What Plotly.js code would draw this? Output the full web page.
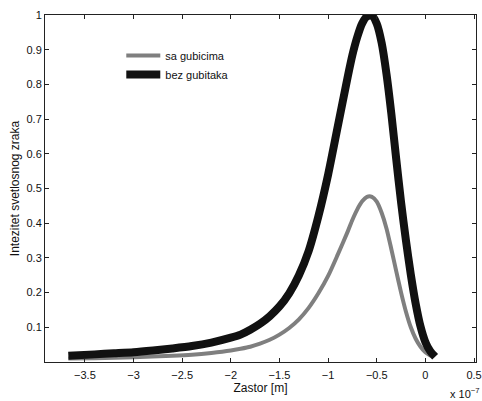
<!DOCTYPE html>
<html>
<head>
<meta charset="utf-8">
<script src="https://cdn.plot.ly/plotly-3.0.1.min.js"></script>
<style>html,body{margin:0;padding:0;background:#fff;}#chart{width:482px;height:401px;}</style>
</head>
<body>
<div id="chart"></div>
<script>
// x in units of 1e-7 m
const xBlack = [-3.67, -3.4, -3.2, -3.0, -2.8, -2.6, -2.4, -2.2, -2.0, -1.9, -1.8, -1.7, -1.6, -1.5, -1.4, -1.3, -1.2, -1.1, -1.0, -0.9, -0.8, -0.75, -0.7, -0.65, -0.6, -0.55, -0.5, -0.45, -0.4, -0.35, -0.3, -0.25, -0.2, -0.15, -0.1, -0.05, 0.0, 0.05, 0.1];
const yBlack = [0.018, 0.022, 0.025, 0.028, 0.033, 0.039, 0.046, 0.056, 0.07, 0.079, 0.093, 0.11, 0.132, 0.16, 0.198, 0.25, 0.32, 0.42, 0.54, 0.68, 0.82, 0.885, 0.937, 0.976, 0.996, 0.998, 0.975, 0.92, 0.83, 0.715, 0.585, 0.46, 0.35, 0.252, 0.168, 0.102, 0.057, 0.031, 0.015];
const xGray = [-3.67, -3.4, -3.0, -2.6, -2.4, -2.2, -2.0, -1.9, -1.8, -1.7, -1.6, -1.5, -1.4, -1.3, -1.2, -1.1, -1.0, -0.9, -0.8, -0.75, -0.7, -0.65, -0.6, -0.55, -0.5, -0.45, -0.4, -0.35, -0.3, -0.25, -0.2, -0.15, -0.1, -0.05, 0.0, 0.05, 0.08];
const yGray = [0.01, 0.011, 0.014, 0.018, 0.021, 0.026, 0.033, 0.038, 0.044, 0.053, 0.064, 0.079, 0.098, 0.123, 0.156, 0.198, 0.248, 0.31, 0.375, 0.41, 0.44, 0.463, 0.476, 0.476, 0.462, 0.43, 0.385, 0.325, 0.262, 0.2, 0.145, 0.1, 0.067, 0.044, 0.028, 0.019, 0.015];
const xTicks = [-3.5, -3, -2.5, -2, -1.5, -1, -0.5, 0, 0.5];
const yTicks = [0.1, 0.2, 0.3, 0.4, 0.5, 0.6, 0.7, 0.8, 0.9, 1];
const seriesNames = ['sa gubicima', 'bez gubitaka'];

const font = 'Liberation Sans, Arial, Helvetica, sans-serif';
const traces = [
  {x: xGray, y: yGray, name: seriesNames[0], mode: 'lines',
   line: {color: '#7f7f7f', width: 4, shape: 'spline', smoothing: 0.7}},
  {x: xBlack, y: yBlack, name: seriesNames[1], mode: 'lines',
   line: {color: '#111111', width: 8, shape: 'spline', smoothing: 0.7}}
];
const axisCommon = {
  showline: true, mirror: 'ticks', linecolor: '#222', linewidth: 1,
  ticks: 'inside', ticklen: 4, tickcolor: '#222', showgrid: false, zeroline: false,
  tickfont: {family: font, size: 11, color: '#111'}
};
const layout = {
  width: 482, height: 401,
  margin: {l: 45, r: 6, t: 15, b: 39},
  paper_bgcolor: '#fff', plot_bgcolor: '#fff',
  showlegend: true,
  legend: {x: 0.177, y: 0.925, xanchor: 'left', yanchor: 'top', bgcolor: 'rgba(0,0,0,0)',
           font: {family: font, size: 11, color: '#111'}, tracegroupgap: 0, itemwidth: 34},
  xaxis: Object.assign({}, axisCommon, {range: [-3.91, 0.52], tickvals: xTicks,
    ticktext: xTicks.map(v => (v < 0 ? '\u2212' : '') + Math.abs(v)),
    ticklabelstandoff: 3,
    title: {text: 'Zastor [m]', font: {family: font, size: 12, color: '#111'}, standoff: 2}}),
  yaxis: Object.assign({}, axisCommon, {range: [0, 1], tickvals: yTicks,
    ticktext: yTicks.map(v => String(v)),
    title: {text: 'Intezitet svetlosnog zraka', font: {family: font, size: 12, color: '#111'}, standoff: 4}}),
  annotations: [{xref: 'paper', yref: 'paper', x: 1.014, y: -0.115, xanchor: 'right', yanchor: 'bottom',
    text: 'x 10<sup>\u22127</sup>', showarrow: false, font: {family: font, size: 11, color: '#111'}}]
};
Plotly.newPlot('chart', traces, layout, {displayModeBar: false, staticPlot: true});
</script>
</body>
</html>
